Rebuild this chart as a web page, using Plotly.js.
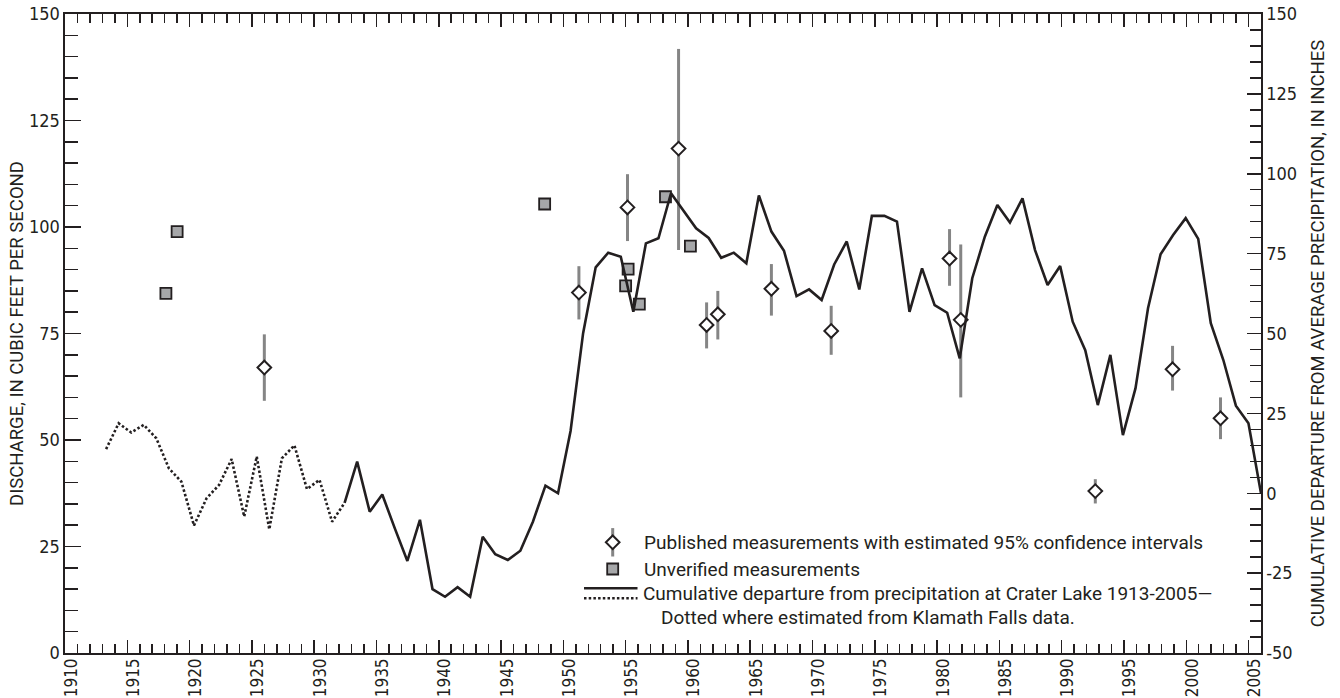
<!DOCTYPE html>
<html>
<head>
<meta charset="utf-8">
<script src="https://cdn.plot.ly/plotly-3.0.1.min.js"></script>
<style>html,body{margin:0;padding:0;background:#fff;}#chart{width:1340px;height:698px;}</style>
</head>
<body>
<div id="chart"></div>
<script>
// ---- Data ----
const lineYears = [
 1913,1914,1915,1916,1917,1918,1919,1920,1921,1922,
 1923,1924,1925,1926,1927,1928,1929,1930,1931,1932,
 1933,1934,1935,1936,1937,1938,1939,1940,1941,1942,
 1943,1944,1945,1946,1947,1948,1949,1950,1951,1952,
 1953,1954,1955,1956,1957,1958,1959,1960,1961,1962,
 1963,1964,1965,1966,1967,1968,1969,1970,1971,1972,
 1973,1974,1975,1976,1977,1978,1979,1980,1981,1982,
 1983,1984,1985,1986,1987,1988,1989,1990,1991,1992,
 1993,1994,1995,1996,1997,1998,1999,2000,2001,2002,
 2003,2004,2005];
const departure = [
 13.8,21.9,19.0,21.4,17.2,7.8,3.6,-10.1,-1.6,2.6,
 10.7,-7.3,11.5,-11.3,10.9,15.0,1.3,4.2,-8.9,-3.0,
 9.9,-5.8,-0.4,-11.0,-21.2,-8.3,-30.0,-32.4,-29.4,-32.4,
 -13.6,-19.1,-20.9,-18.0,-8.9,2.4,0.0,19.5,50.1,70.7,
 75.3,74.0,56.8,78.2,79.8,93.9,88.4,82.9,79.9,73.7,
 75.3,72.0,93.2,81.9,75.9,61.7,63.8,60.5,71.6,78.8,
 63.8,86.8,86.8,85.0,56.8,70.4,58.9,56.5,42.2,67.3,
 80.3,90.2,84.7,92.3,76.1,65.2,71.1,53.7,44.8,27.6,
 43.3,18.2,32.8,57.9,74.8,80.8,86.1,79.6,53.2,41.7,
 27.4,21.9,0.0];
const lastEstimatedYear = 1932; // dotted (Klamath Falls estimate) through this year

const pubYear = [1926.0,1951.25,1955.15,1959.25,1961.5,1962.4,1966.7,1971.5,1981.0,1981.9,1992.7,1998.9,2002.75];
const pubQ    = [67.0,84.6,104.6,118.4,77.0,79.5,85.5,75.6,92.6,78.2,38.0,66.6,55.1];
const pubHigh = [74.8,90.8,112.4,141.8,82.3,85.0,91.3,81.5,99.5,95.9,40.8,72.1,60.0];
const pubLow  = [59.2,78.3,96.7,94.6,71.5,73.6,79.2,70.0,86.2,60.0,35.1,61.6,50.2];

const unvYear = [1918.1,1919.0,1948.5,1955.0,1955.2,1956.1,1958.2,1960.2];
const unvQ    = [84.4,98.9,105.4,86.2,90.1,81.9,107.1,95.5];

const leftTicks  = [0,25,50,75,100,125,150];
const rightTicks = [-50,-25,0,25,50,75,100,125,150];
const yearTicks  = [1910,1915,1920,1925,1930,1935,1940,1945,1950,1955,1960,1965,1970,1975,1980,1985,1990,1995,2000,2005];

// ---- Style ----
const INK = '#231f20';
const BAR = '#858585';
const SQ  = '#a6a7a9';
const TICKFONT = {family:'"Liberation Sans Narrow","DejaVu Sans Condensed",sans-serif', size:18, color:INK};
const XTICKFONT = {family:'"Liberation Sans Narrow","DejaVu Sans Condensed",sans-serif', size:17, color:INK};
const TITLEFONT = {family:'Roboto, "Liberation Sans", sans-serif', size:18.5, color:INK};
const LEGFONT = {family:'Roboto, "Liberation Sans", sans-serif', size:19, color:INK};

// plot area in pixels (for legend placement)
const L = 65, R = 1261, T = 14, B = 653;
const PX = p => (p - L) / (R - L);
const PY = p => (B - p) / (B - T);

const dotYears = [], dotVals = [], solYears = [], solVals = [];
lineYears.forEach((yr, i) => {
  if (yr <= lastEstimatedYear) { dotYears.push(yr); dotVals.push(departure[i]); }
  if (yr >= lastEstimatedYear) { solYears.push(yr); solVals.push(departure[i]); }
});

const traces = [
  {x: dotYears, y: dotVals, xaxis:'x2', yaxis:'y2', mode:'lines', type:'scatter',
   line:{color:INK, width:2.6, dash:'2.5px,2.2px'}, showlegend:false},
  {x: solYears, y: solVals, xaxis:'x2', yaxis:'y2', mode:'lines', type:'scatter',
   line:{color:INK, width:2.6}, showlegend:false},
  {x: unvYear, y: unvQ, mode:'markers', type:'scatter', xaxis:'x', yaxis:'y',
   marker:{symbol:'square', size:11, color:SQ, line:{color:INK, width:1.8}}, showlegend:false},
  {x: pubYear, y: pubQ, mode:'markers', type:'scatter', xaxis:'x', yaxis:'y',
   error_y:{type:'data', symmetric:false,
     array: pubHigh.map((h,i)=>h-pubQ[i]), arrayminus: pubLow.map((l,i)=>pubQ[i]-l),
     color:BAR, thickness:3, width:0},
   marker:{symbol:'diamond', size:10.5, color:'#ffffff', line:{color:INK, width:2}}, showlegend:false},
  // legend samples (on a hidden 0..1 overlay)
  {x:[PX(612.7)], y:[PY(542.3)], xaxis:'x3', yaxis:'y3', mode:'markers', type:'scatter', hoverinfo:'skip',
   error_y:{type:'constant', value:14.2/(B-T), color:BAR, thickness:3, width:0},
   marker:{symbol:'diamond', size:10.5, color:'#ffffff', line:{color:INK, width:2}}, showlegend:false},
  {x:[PX(612.7)], y:[PY(569)], xaxis:'x3', yaxis:'y3', mode:'markers', type:'scatter', hoverinfo:'skip',
   marker:{symbol:'square', size:11, color:SQ, line:{color:INK, width:1.8}}, showlegend:false},
  {x:[PX(584), PX(637.5)], y:[PY(588.3), PY(588.3)], xaxis:'x3', yaxis:'y3', mode:'lines', type:'scatter', hoverinfo:'skip',
   line:{color:INK, width:2.6}, showlegend:false},
  {x:[PX(584), PX(637.5)], y:[PY(598.3), PY(598.3)], xaxis:'x3', yaxis:'y3', mode:'lines', type:'scatter', hoverinfo:'skip',
   line:{color:INK, width:2.6, dash:'2.5px,2.2px'}, showlegend:false}
];

const legendTexts = [
  {t:'Published measurements with estimated 95% confidence intervals', x:642, y:542.3},
  {t:'Unverified measurements', x:642, y:569.3},
  {t:'Cumulative departure from precipitation at Crater Lake 1913-2005\u2014', x:641, y:593.3},
  {t:'Dotted where estimated from Klamath Falls data.', x:659, y:617.3}
];

const layout = {
  width:1340, height:698,
  margin:{l:L, r:1340-R, t:T, b:698-B, pad:0},
  paper_bgcolor:'#ffffff', plot_bgcolor:'#ffffff',
  showlegend:false,
  xaxis:{range:[1910,2006], tickmode:'array', tickvals:yearTicks, ticktext:yearTicks.map(String),
    ticks:'inside', ticklen:13, tickwidth:1.5, tickcolor:INK,
    showline:true, linewidth:1.6, linecolor:INK, mirror:'ticks', tickangle:-90,
    ticklabelstandoff:-3, ticklabelshift:6,
    tickfont:XTICKFONT, showgrid:false, zeroline:false,
    minor:{tickmode:'linear', tick0:1910, dtick:1, ticks:'inside', ticklen:9, tickwidth:1.5, tickcolor:INK, showgrid:false}},
  xaxis2:{overlaying:'x', range:[1909.726,2005.0], visible:false, showgrid:false, zeroline:false},
  xaxis3:{overlaying:'x', range:[0,1], visible:false, showgrid:false, zeroline:false},
  yaxis:{range:[0,150], tickmode:'array', tickvals:leftTicks, ticktext:leftTicks.map(String),
    ticks:'inside', ticklen:16, tickwidth:1.5, tickcolor:INK,
    showline:true, linewidth:1.6, linecolor:INK, tickfont:TICKFONT, showgrid:false, zeroline:false,
    minor:{tickmode:'linear', tick0:0, dtick:5, ticks:'inside', ticklen:12.5, tickwidth:1.5, tickcolor:INK, showgrid:false},
    title:{text:'DISCHARGE, IN CUBIC FEET PER SECOND', font:TITLEFONT, standoff:0}},
  yaxis2:{overlaying:'y', side:'right', anchor:'x', range:[-50,150], tickmode:'array', tickvals:rightTicks, ticktext:rightTicks.map(String),
    ticks:'inside', ticklen:14, tickwidth:1.5, tickcolor:INK,
    showline:true, linewidth:1.6, linecolor:INK, tickfont:TICKFONT, showgrid:false, zeroline:false,
    minor:{tickmode:'linear', tick0:-50, dtick:5, ticks:'inside', ticklen:11.5, tickwidth:1.5, tickcolor:INK, showgrid:false},
    title:{text:'CUMULATIVE DEPARTURE FROM AVERAGE PRECIPITATION, IN INCHES', font:TITLEFONT, standoff:15}},
  yaxis3:{overlaying:'y', range:[0,1], visible:false, showgrid:false, zeroline:false},
  annotations: legendTexts.map(a => ({text:a.t, xref:'paper', yref:'paper', x:PX(a.x), y:PY(a.y),
    xanchor:'left', yanchor:'middle', showarrow:false, font:LEGFONT}))
};

Plotly.newPlot('chart', traces, layout, {displayModeBar:false, staticPlot:true});
</script>
</body>
</html>
